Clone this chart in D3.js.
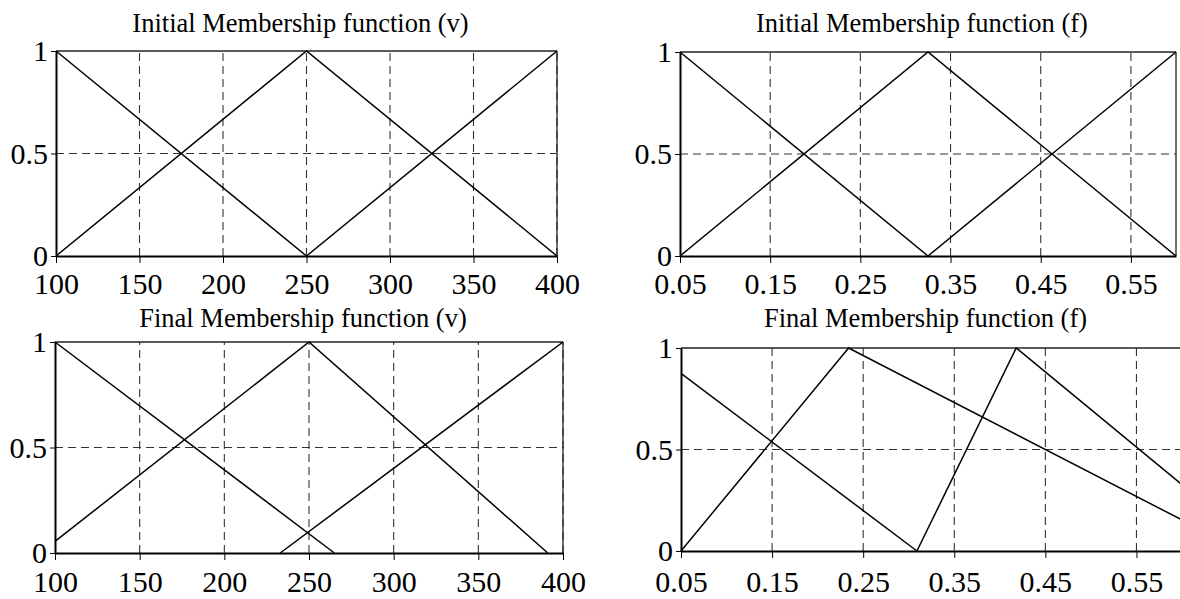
<!DOCTYPE html>
<html>
<head>
<meta charset="utf-8">
<script src="https://cdn.jsdelivr.net/npm/d3@7"></script>
<style>
  body { margin: 0; background: #fff; }
  svg { display: block; font-family: "Liberation Serif", "Times New Roman", serif; }
</style>
</head>
<body>
<svg id="chart" width="1180" height="599"></svg>
<script>
// tick labels
let v_ticks = [100, 150, 200, 250, 300, 350, 400];
let f_ticks = [0.05, 0.15, 0.25, 0.35, 0.45, 0.55];
let y_ticks = [0, 0.5, 1];

// initial membership functions (v)
let init_v_low = [[100, 1], [250, 0]];
let init_v_med = [[100, 0], [250, 1], [400, 0]];
let init_v_high = [[250, 0], [400, 1]];

// initial membership functions (f)
let init_f_low = [[0.05, 1], [0.325, 0]];
let init_f_med = [[0.05, 0], [0.325, 1], [0.6, 0]];
let init_f_high = [[0.325, 0], [0.6, 1]];

// final membership functions (v)
let final_v_low = [[100, 1], [265, 0]];
let final_v_med = [[100, 0.055], [250, 1], [391, 0]];
let final_v_high = [[233, 0], [400, 1]];

// final membership functions (f)
let final_f_low = [[0.05, 0.875], [0.309, 0]];
let final_f_med = [[0.05, 0], [0.234, 1], [0.6, 0.153]];
let final_f_high = [[0.309, 0], [0.418, 1], [0.6, 0.327]];

let svg = d3.select("#chart");

// one panel per chart
function draw_panel(title, xdomain, xticks, xfmt, xr, yr, tx, ty, series) {
  let x = d3.scaleLinear().domain(xdomain).range(xr);
  let y = d3.scaleLinear().domain([0, 1]).range(yr);
  let g = svg.append("g");

  // grid
  g.selectAll(".vgrid").data(xticks.filter(d => d > xdomain[0]))
    .enter().append("line")
    .attr("x1", d => x(d)).attr("x2", d => x(d))
    .attr("y1", yr[0]).attr("y2", yr[1])
    .attr("stroke", "#333").attr("stroke-width", 1.1).attr("stroke-dasharray", "8,5");
  g.append("line")
    .attr("x1", xr[0]).attr("x2", xr[1])
    .attr("y1", y(0.5)).attr("y2", y(0.5))
    .attr("stroke", "#333").attr("stroke-width", 1.1).attr("stroke-dasharray", "8,5");

  // top and right border
  g.append("line").attr("x1", xr[0]).attr("x2", xr[1]).attr("y1", yr[1]).attr("y2", yr[1])
    .attr("stroke", "#222").attr("stroke-width", 1.3);
  g.append("line").attr("x1", xr[1]).attr("x2", xr[1]).attr("y1", yr[0]).attr("y2", yr[1])
    .attr("stroke", "#222").attr("stroke-width", 1.3);

  // axes
  let xAxis = d3.axisBottom(x).tickValues(xticks).tickFormat(xfmt).tickSize(7).tickSizeOuter(0);
  let gx = g.append("g").attr("transform", "translate(0," + yr[0] + ")").call(xAxis);
  gx.select(".domain").attr("stroke", "#000").attr("stroke-width", 2);
  gx.selectAll(".tick line").attr("stroke", "#000").attr("stroke-width", 1);
  gx.selectAll("text").attr("font-size", 30).attr("font-family", "Liberation Serif")
    .attr("fill", "#000").attr("y", 0).attr("dy", 0)
    .attr("transform", "translate(0," + (tx - yr[0]) + ")");

  let yAxis = d3.axisLeft(y).tickValues(y_ticks).tickFormat(d3.format("")).tickSize(5).tickSizeOuter(0);
  let gy = g.append("g").attr("transform", "translate(" + xr[0] + ",0)").call(yAxis);
  gy.select(".domain").attr("stroke", "#000").attr("stroke-width", 2);
  gy.selectAll(".tick line").attr("stroke", "#000");
  gy.selectAll("text").attr("font-size", 30).attr("font-family", "Liberation Serif")
    .attr("fill", "#000").attr("x", -8).attr("dy", "0.33em");

  // membership lines
  let line = d3.line().x(d => x(d[0])).y(d => y(d[1]));
  g.selectAll(".mf").data(series).enter().append("path")
    .attr("d", line).attr("fill", "none")
    .attr("stroke", "#000").attr("stroke-width", 1.5);

  g.append("text").attr("x", (xr[0] + xr[1]) / 2 - 6).attr("y", ty)
    .attr("text-anchor", "middle").attr("font-size", 26.5).text(title);
}

let fmtv = d3.format("d");
let fmtf = d3.format(".2f");

draw_panel("Initial Membership function (v)", [100, 400], v_ticks, fmtv,
  [56, 557], [256, 51], 294, 32, [init_v_low, init_v_med, init_v_high]);
draw_panel("Initial Membership function (f)", [0.05, 0.6], f_ticks, fmtf,
  [680, 1176], [256, 52], 294, 32, [init_f_low, init_f_med, init_f_high]);
draw_panel("Final Membership function (v)", [100, 400], v_ticks, fmtv,
  [55, 563], [553, 342], 592, 327, [final_v_low, final_v_med, final_v_high]);
draw_panel("Final Membership function (f)", [0.05, 0.6], f_ticks, fmtf,
  [681, 1182], [551, 348], 592, 327, [final_f_low, final_f_med, final_f_high]);
</script>
</body>
</html>
